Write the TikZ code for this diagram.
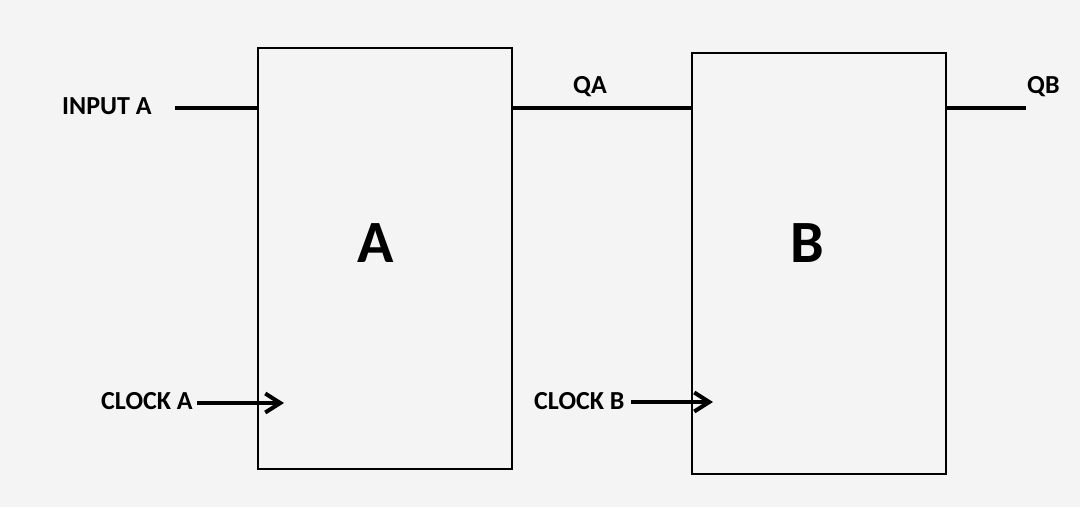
\documentclass[tikz,border=0pt]{standalone}
\usepackage{fontspec}
\setmainfont{Carlito}
\usetikzlibrary{arrows.meta}
\definecolor{bg}{HTML}{F4F4F4}
\begin{document}
\begin{tikzpicture}[x=1pt,y=-1pt,
  blockbox/.style={draw=black,line width=2pt,fill=bg},
  wire/.style={line width=4pt},
  clk/.style={line width=4pt,-{Straight Barb[length=15pt,width=19pt,line width=4pt]}},
  lbl/.style={font=\fontsize{26}{30}\selectfont\bfseries,inner sep=0pt,anchor=base west},
  big/.style={font=\fontsize{60}{70}\selectfont\bfseries,inner sep=0pt,anchor=base}]
\fill[bg] (0,0) rectangle (1080,507);
\useasboundingbox (0,0) rectangle (1080,507);
\draw[blockbox] (258,48) rectangle (512,469);
\draw[blockbox] (692,53) rectangle (946,474);
\coordinate (aTL) at (258,108);
\coordinate (aR) at (512,108);
\coordinate (bL) at (692,108);
\coordinate (bR) at (946,108);
\coordinate (inS) at (175,108);
\coordinate (qbE) at (1026,108);
\coordinate (caS) at (197,403);
\coordinate (caE) at (284,403);
\coordinate (cbS) at (631,402);
\coordinate (cbE) at (713,402);
\node[big] (A) at (376,262) {A};
\node[big] (B) at (807,262) {B};
\node[lbl] (inA) at (62,114) {INPUT A};
\node[lbl] (qa) at (573,93) {QA};
\node[lbl] (qb) at (1027,93) {QB};
\node[lbl] (clkA) at (101,409) {CLOCK A};
\node[lbl] (clkB) at (534,409) {CLOCK B};
\draw[wire] (inS) -- (aTL);
\draw[wire] (aR) -- (bL);
\draw[wire] (bR) -- (qbE);
\draw[clk] (caS) -- (caE);
\draw[clk] (cbS) -- (cbE);
\end{tikzpicture}
\end{document}
